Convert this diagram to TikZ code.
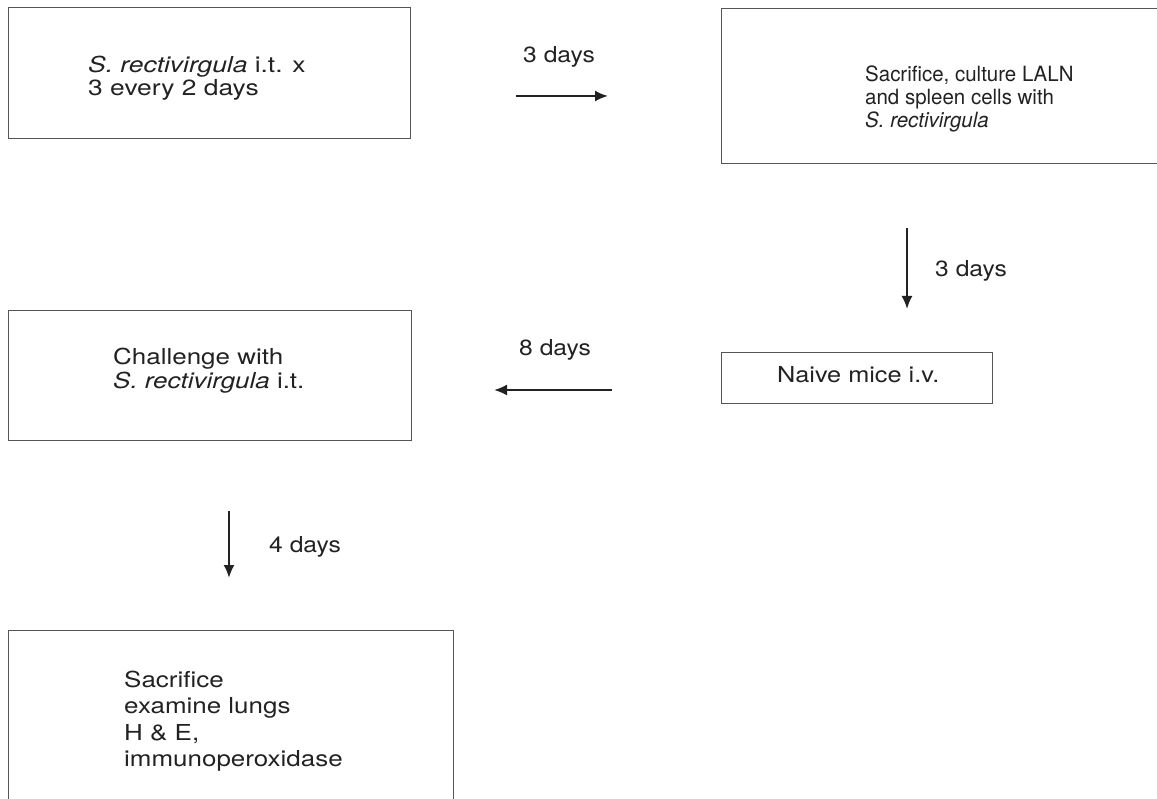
\documentclass[tikz,border=0pt]{standalone}
\usepackage{fontspec}
\usepackage{graphicx}
\setmainfont{TeX Gyre Heros}
\usetikzlibrary{arrows.meta}
\definecolor{boxline}{HTML}{555555}
\definecolor{ink}{HTML}{222222}
\newcommand{\wtext}[2]{\scalebox{#1}[1]{\begin{tabular}[t]{@{}l@{}}#2\end{tabular}}}
\tikzset{
  box/.style={draw=boxline, line width=1.2pt, anchor=north west, inner sep=0pt},
  txt/.style={anchor=base west, inner sep=0pt, text=ink},
  lbl/.style={anchor=base west, inner sep=0pt, text=ink, font=\fontsize{22}{26}\selectfont},
  arr/.style={draw=ink, line width=2pt, -{Latex[length=13pt,width=11pt]}}
}
\begin{document}
\begin{tikzpicture}[x=1pt,y=-1pt]
\useasboundingbox (0,0) rectangle (1157,799);
\clip (0,0) rectangle (1157,799);
% boxes
\node[box, minimum width=402pt, minimum height=131pt] (b1) at (8,7) {};
\node[box, minimum width=480pt, minimum height=155pt] (b2) at (721,8) {};
\node[box, minimum width=271pt, minimum height=51pt] (b3) at (721,352) {};
\node[box, minimum width=403pt, minimum height=130pt] (b4) at (8,310) {};
\node[box, minimum width=445pt, minimum height=220pt] (b5) at (8,630) {};
% texts
\node[txt, font=\fontsize{22}{21.5}\selectfont] (t1) at (88,73)
  {\wtext{1.2}{\textit{S. rectivirgula} i.t. x\\3 every 2 days}};
\node[txt, font=\fontsize{21}{23}\selectfont] (t2) at (865,82)
  {\wtext{0.975}{Sacrifice, culture LALN\\and spleen cells with\\\textit{S. rectivirgula}}};
\node[txt, font=\fontsize{22}{26}\selectfont] (t3) at (777,383)
  {\wtext{1.15}{Naive mice i.v.}};
\node[txt, font=\fontsize{22}{22}\selectfont] (t4) at (113,365)
  {\wtext{1.18}{Challenge with\\\textit{S. rectivirgula} i.t.}};
\node[txt, font=\fontsize{22}{26.5}\selectfont] (t5) at (124,687)
  {\wtext{1.18}{Sacrifice\\examine lungs\\H \& E,\\immunoperoxidase}};
% arrows
\coordinate (a1s) at (516,96); \coordinate (a1e) at (608,96);
\draw[arr] (a1s) -- (a1e);
\node[lbl] (l1) at (523,63) {\wtext{1.12}{3 days}};
\coordinate (a2s) at (907,228); \coordinate (a2e) at (907,309);
\draw[arr] (a2s) -- (a2e);
\node[lbl] (l2) at (935,277) {\wtext{1.12}{3 days}};
\coordinate (a3s) at (612,390); \coordinate (a3e) at (494,390);
\draw[arr] (a3s) -- (a3e);
\node[lbl] (l3) at (519,356) {\wtext{1.12}{8 days}};
\coordinate (a4s) at (229,511); \coordinate (a4e) at (229,578);
\draw[arr] (a4s) -- (a4e);
\node[lbl] (l4) at (269,552) {\wtext{1.12}{4 days}};
\end{tikzpicture}
\end{document}
